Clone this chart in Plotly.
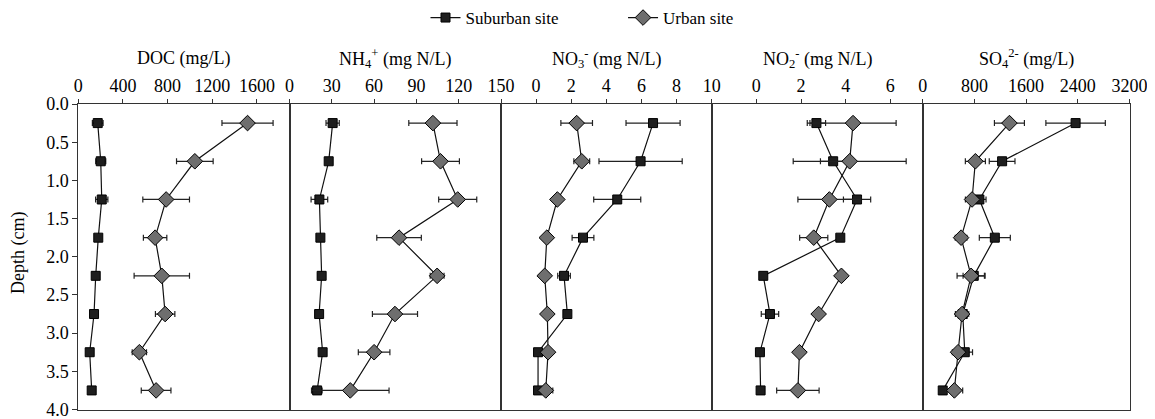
import plotly.graph_objects as go

depth = [0.25, 0.75, 1.25, 1.75, 2.25, 2.75, 3.25, 3.75]

doc_sub = [174, 201, 210, 179, 156, 141, 102, 120]
doc_sub_err = [48, 45, 55, 20, 25, 15, 15, 15]
doc_urb = [1516, 1044, 787, 688, 748, 778, 547, 697]
doc_urb_err = [229, 164, 209, 105, 248, 87, 64, 133]

nh4_sub = [30.6, 27.8, 21.2, 21.9, 22.8, 21.0, 23.5, 19.6]
nh4_sub_err = [4.7, 2, 5.9, 2, 2.5, 2, 2, 3.5]
nh4_urb = [101.7, 107.1, 119.3, 77.7, 104.7, 74.8, 60.0, 43.1]
nh4_urb_err = [17.1, 13.4, 13.5, 15.8, 4.9, 16.0, 11.2, 27.5]

no3_sub = [6.66, 5.95, 4.62, 2.67, 1.59, 1.78, 0.11, 0.11]
no3_sub_err = [1.54, 2.37, 1.34, 0.62, 0.36, 0.1, 0.05, 0.1]
no3_urb = [2.31, 2.60, 1.21, 0.61, 0.49, 0.64, 0.68, 0.55]
no3_urb_err = [0.9, 0.45, 0.15, 0.1, 0.15, 0.1, 0.1, 0.4]

no2_sub = [2.69, 3.44, 4.51, 3.76, 0.31, 0.61, 0.16, 0.19]
no2_sub_err = [0.41, 0.57, 0.61, 0.1, 0.05, 0.39, 0.05, 0.1]
no2_urb = [4.33, 4.18, 3.27, 2.57, 3.81, 2.79, 1.93, 1.86]
no2_urb_err = [1.93, 2.53, 1.41, 0.63, 0.1, 0.15, 0.15, 0.95]

so4_sub = [2366, 1229, 877, 1116, 790, 620, 651, 310]
so4_sub_err = [460, 199, 103, 240, 165, 52, 120, 20]
so4_urb = [1342, 815, 764, 594, 749, 609, 547, 490]
so4_urb_err = [232, 155, 103, 90, 217, 103, 88, 129]

titles = ["DOC (mg/L)", "NH<sub>4</sub><sup>+</sup> (mg N/L)", "NO<sub>3</sub><sup>-</sup> (mg N/L)",
          "NO<sub>2</sub><sup>-</sup> (mg N/L)", "SO<sub>4</sub><sup>2-</sup> (mg/L)"]
ranges = [[0, 1892], [0, 150], [-2, 10], [-2, 7.45], [0, 3200]]
tickvals = [[0, 400, 800, 1200, 1600], [0, 30, 60, 90, 120, 150], [0, 2, 4, 6, 8, 10],
            [0, 2, 4, 6], [0, 800, 1600, 2400, 3200]]
panels = [(doc_sub, doc_sub_err, doc_urb, doc_urb_err),
          (nh4_sub, nh4_sub_err, nh4_urb, nh4_urb_err),
          (no3_sub, no3_sub_err, no3_urb, no3_urb_err),
          (no2_sub, no2_sub_err, no2_urb, no2_urb_err),
          (so4_sub, so4_sub_err, so4_urb, so4_urb_err)]

# page body has an 8px margin; figure size and coordinates compensate for it
OFF = 8
W, H = 1155 - OFF, 419 - OFF


def px(x):
    return (x - OFF) / W


def py(y):
    return 1 - (y - OFF) / H


bounds = [78.3, 289.5, 501, 711.7, 922.7, 1129.5]
ydom = [py(409.5), py(104)]
FONT = "Liberation Serif, Times New Roman, serif"
FS = 18

fig = go.Figure()
layout = dict(
    width=W, height=H, margin=dict(l=0, r=0, t=0, b=0, autoexpand=False),
    paper_bgcolor="white", plot_bgcolor="white",
    font=dict(family=FONT, size=FS, color="black"),
    showlegend=True,
    legend=dict(orientation="h", x=px(582), xanchor="center", y=py(0), yanchor="top",
                font=dict(size=17), itemwidth=30, tracegroupgap=0,
                bgcolor="rgba(0,0,0,0)"),
)
annotations = []
for i, (sub, sube, urb, urbe) in enumerate(panels):
    k = "" if i == 0 else str(i + 1)
    xa, ya = "x" + k, "y" + k
    fig.add_trace(go.Scatter(
        x=sub, y=depth, mode="lines+markers", xaxis=xa, yaxis=ya,
        name="Suburban site" + " " * 14, showlegend=(i == 0),
        line=dict(color="#111111", width=1.2),
        marker=dict(symbol="square", size=9, color="#1e1e1e", line=dict(color="#000", width=1)),
        error_x=dict(type="data", array=sube, visible=True, color="#222", thickness=1.2, width=3),
    ))
    fig.add_trace(go.Scatter(
        x=urb, y=depth, mode="lines+markers", xaxis=xa, yaxis=ya,
        name="Urban site", showlegend=(i == 0),
        line=dict(color="#111111", width=1.2),
        marker=dict(symbol="diamond", size=12, color="#6e6e6e", line=dict(color="#000", width=1)),
        error_x=dict(type="data", array=urbe, visible=True, color="#222", thickness=1.2, width=3),
    ))
    layout["xaxis" + k] = dict(
        domain=[px(bounds[i]), px(bounds[i + 1])], range=ranges[i], side="top",
        anchor=ya, tickvals=tickvals[i], ticks="outside", ticklen=4, tickwidth=1,
        tickcolor="#333", showline=True, linecolor="#333", linewidth=1, mirror=True,
        showgrid=False, zeroline=False, automargin=False, ticklabeloverflow="allow",
        tickfont=dict(family=FONT, size=FS),
    )
    ydict = dict(
        domain=ydom, range=[4, 0], anchor=xa, showline=True, linecolor="#333",
        linewidth=1, mirror=True, showgrid=False, zeroline=False, automargin=False,
        ticklabeloverflow="allow",
    )
    if i == 0:
        ydict.update(tickvals=[0, 0.5, 1, 1.5, 2, 2.5, 3, 3.5, 4], tickformat=".1f",
                     ticks="outside", ticklen=5, tickcolor="#333",
                     tickfont=dict(family=FONT, size=FS))
    else:
        ydict.update(matches="y", showticklabels=False, ticks="")
    layout["yaxis" + k] = ydict
    annotations.append(dict(
        text=titles[i], x=px((bounds[i] + bounds[i + 1]) / 2), y=py(59),
        xref="paper", yref="paper", showarrow=False, xanchor="center", yanchor="middle",
        font=dict(family=FONT, size=FS)))

annotations.append(dict(text="Depth (cm)", x=px(18), y=py(253), xref="paper", yref="paper",
                        showarrow=False, textangle=-90, xanchor="center", yanchor="middle",
                        font=dict(family=FONT, size=FS)))
layout["annotations"] = annotations
fig.update_layout(**layout)
fig.write_html("out.html")
